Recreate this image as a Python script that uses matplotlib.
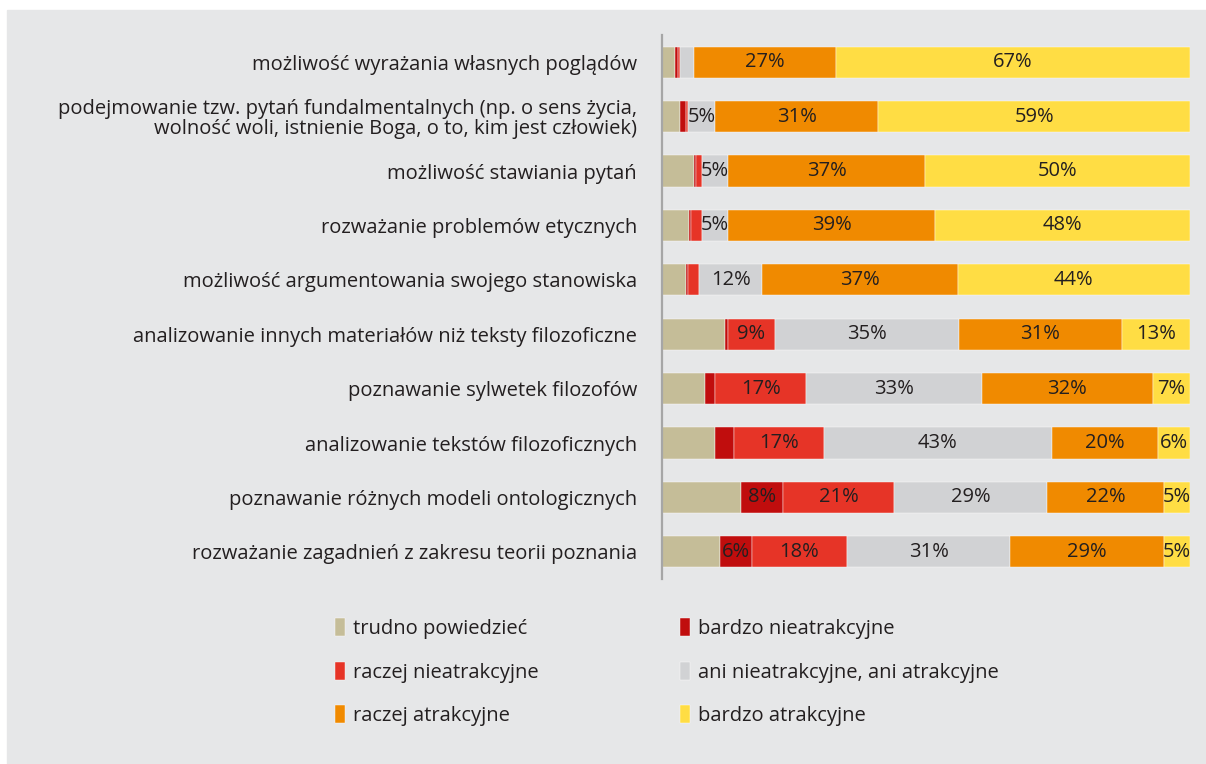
import numpy as np
import matplotlib.pyplot as plt
from matplotlib.patches import Rectangle

plt.rcParams['font.family'] = ['Open Sans', 'DejaVu Sans']

# categories, top to bottom
categories = [
    'możliwość wyrażania własnych poglądów',
    'podejmowanie tzw. pytań fundalmentalnych (np. o sens życia,\nwolność woli, istnienie Boga, o to, kim jest człowiek)',
    'możliwość stawiania pytań',
    'rozważanie problemów etycznych',
    'możliwość argumentowania swojego stanowiska',
    'analizowanie innych materiałów niż teksty filozoficzne',
    'poznawanie sylwetek filozofów',
    'analizowanie tekstów filozoficznych',
    'poznawanie różnych modeli ontologicznych',
    'rozważanie zagadnień z zakresu teorii poznania',
]

series_names = [
    'trudno powiedzieć',
    'bardzo nieatrakcyjne',
    'raczej nieatrakcyjne',
    'ani nieatrakcyjne, ani atrakcyjne',
    'raczej atrakcyjne',
    'bardzo atrakcyjne',
]

trudno      = [2.5, 3.5, 6.0, 5.0, 4.5, 12.0, 8.0, 10.0, 15.0, 11.0]
bardzo_nie  = [0.5, 1.0, 0.5, 0.5, 0.5, 0.5, 2.0, 3.5, 8.0, 6.0]
raczej_nie  = [0.5, 0.5, 1.0, 2.0, 2.0, 9.0, 17.0, 17.0, 21.0, 18.0]
ani         = [2.5, 5.0, 5.0, 5.0, 12.0, 35.0, 33.0, 43.0, 29.0, 31.0]
raczej_atr  = [27.0, 31.0, 37.0, 39.0, 37.0, 31.0, 32.0, 20.0, 22.0, 29.0]
bardzo_atr  = [67.0, 59.0, 50.0, 48.0, 44.0, 13.0, 7.0, 6.0, 5.0, 5.0]

colors = ['#c5bd98', '#c00d0d', '#e63427', '#d1d2d4', '#f08a00', '#ffdd44']
bg = '#e6e7e8'
fs = 14.5

raw = np.array([trudno, bardzo_nie, raczej_nie, ani, raczej_atr, bardzo_atr])
data = raw / raw.sum(axis=0) * 100  # 100% stacked

fig = plt.figure(figsize=(12.06, 7.64), dpi=100)
fig.patches.append(Rectangle((7 / 1206, 0), 1 - 7 / 1206, 1 - 10 / 764,
                             transform=fig.transFigure, color=bg, zorder=-10))

ax = fig.add_axes([662 / 1206, 1 - 579 / 764, 528 / 1206, 544 / 764])
ax.set_facecolor('none')

y = np.arange(len(categories))
left = np.zeros(len(categories))
handles = []
for i, (name, vals) in enumerate(zip(series_names, data)):
    bars = ax.barh(y, vals, left=left, height=0.57, color=colors[i],
                   edgecolor='#ffffff', linewidth=0.3, label=name)
    handles.append(bars)
    # no labels on "trudno powiedzieć", small shares unlabeled
    if i > 0:
        for yy, l, v, r in zip(y, left, vals, raw[i]):
            if r >= 4.5:
                ax.text(l + v / 2, yy, f'{int(round(r))}%', ha='center', va='center',
                        fontsize=fs, color='#231f20')
    left += vals

ax.set_xlim(0, 100)
ax.set_ylim(len(categories) - 0.5, -0.5)
ax.set_yticks(y)
ax.set_yticklabels(categories, fontsize=fs, color='#231f20', ha='right', linespacing=1.0)
ax.tick_params(axis='y', length=0, pad=18)
ax.set_xticks([])
for s in ['top', 'right', 'bottom']:
    ax.spines[s].set_visible(False)
ax.spines['left'].set_color('#a6a6a6')
ax.spines['left'].set_linewidth(1.6)

order = [[0, 2, 4], [1, 3, 5]]
for col, x0 in zip(order, [335 / 1206, 680 / 1206]):
    leg = fig.legend([handles[k] for k in col], [series_names[k] for k in col],
                     loc='upper left', bbox_to_anchor=(x0, 1 - 618 / 764),
                     frameon=False, fontsize=fs, handlelength=0.5, handleheight=1.0,
                     handletextpad=0.4, labelspacing=1.13, borderpad=0, borderaxespad=0)
    for t in leg.get_texts():
        t.set_color('#231f20')

fig.savefig('out.png', dpi=100, facecolor='white')
